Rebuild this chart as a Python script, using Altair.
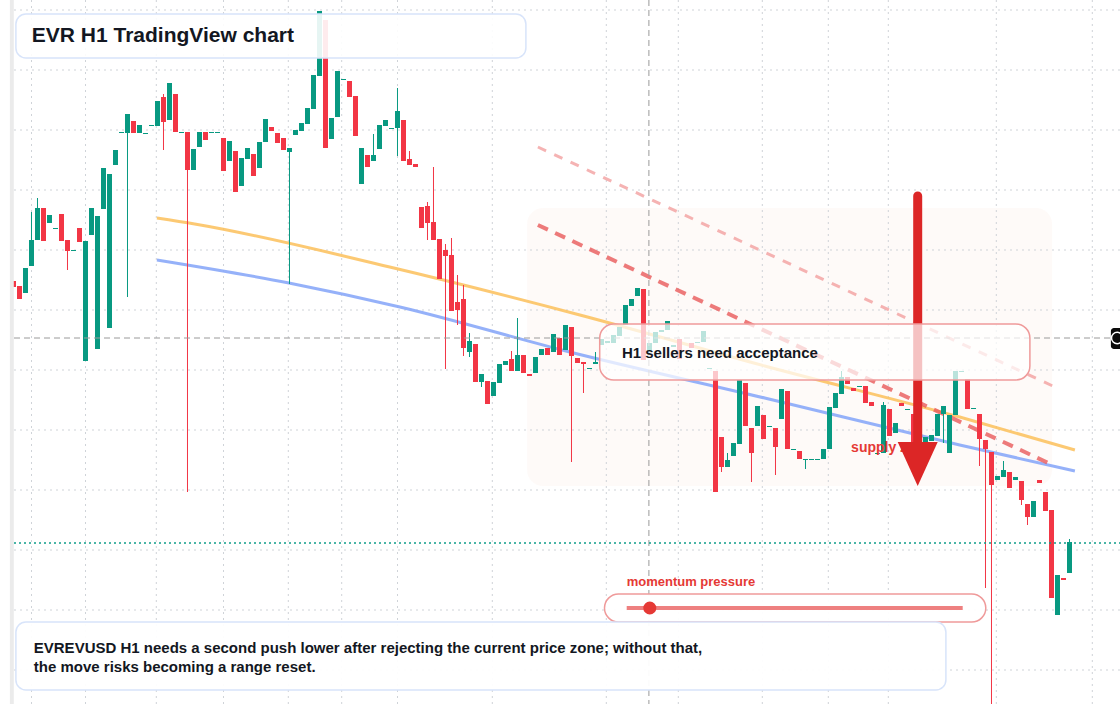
import altair as alt
import pandas as pd

# ---------------- data ----------------
candle_idx = list(range(-1, 176))
opens = [4.23, 4.18, 4.11, 4.38, 4.64, 4.96, 4.81, 4.75, 4.90, 4.64, 4.53, 4.76, 3.43, 4.69, 3.55, 4.95, 3.76, 5.39, 5.71, 5.71,
         5.83, 5.71, 5.70, 5.78, 5.78, 6.07, 5.84, 6.10, 5.71, 5.72, 5.34, 5.57, 5.72, 5.71, 5.71, 5.66, 5.43, 5.53, 5.18, 5.45,
         5.50, 5.36, 5.62, 5.77, 5.71, 5.66, 5.52, 5.69, 5.73, 5.80, 5.95, 6.28, 6.84, 5.65, 5.87, 6.24, 6.23, 6.08, 5.20, 5.49,
         5.43, 5.55, 5.78, 5.75, 5.76, 5.84, 5.45, 5.40, 4.97, 4.98, 4.82, 4.65, 4.54, 4.49, 4.02, 4.05, 3.52, 3.60, 3.22, 3.23,
         3.08, 3.21, 3.39, 3.45, 3.33, 3.49, 3.30, 3.31, 3.49, 3.56, 3.52, 3.66, 3.54, 3.77, 3.46, 3.42, 3.35, 3.40, 3.59, 3.61,
         3.61, 3.68, 3.79, 3.98, 4.08, 4.15, 3.52, 3.61, 3.72, 3.74, 3.57, 3.65, 3.54, 3.61, 3.61, 3.62, 3.35, 3.33, 2.67, 2.37,
         2.48, 2.60, 3.21, 2.76, 2.78, 2.89, 2.77, 2.76, 2.85, 3.13, 2.54, 2.53, 2.44, 2.44, 2.44, 2.45, 2.55, 2.96, 3.10, 3.27,
         3.16, 3.17, 3.18, 3.02, 2.50, 2.51, 2.95, 2.71, 3.01, 2.94, 2.90, 2.74, 2.59, 2.63, 2.68, 2.90, 2.51, 2.89, 3.32, 3.25,
         2.95, 2.90, 2.64, 2.52, 2.24, 2.27, 2.32, 2.24, 2.23, 2.00, 1.87, 2.24, 2.12, 1.94, 0.89, 1.26, 1.31]
closes = [4.17, 4.05, 4.36, 4.64, 4.96, 4.63, 4.89, 4.76, 4.63, 4.53, 4.54, 4.62, 4.63, 4.96, 4.88, 5.36, 5.30, 5.54, 5.72, 5.90,
          5.71, 5.79, 5.71, 5.79, 6.03, 5.82, 6.21, 5.72, 5.72, 5.34, 5.55, 5.72, 5.64, 5.72, 5.72, 5.33, 5.63, 5.12, 5.46, 5.56,
          5.28, 5.62, 5.85, 5.73, 5.61, 5.54, 5.56, 5.74, 5.81, 5.96, 6.29, 6.93, 5.56, 5.86, 6.33, 6.25, 6.07, 5.68, 5.56, 5.37,
          5.49, 5.79, 5.84, 5.76, 5.93, 5.43, 5.39, 5.37, 4.76, 4.81, 4.64, 4.25, 4.48, 3.93, 3.94, 3.56, 3.63, 3.22, 3.30, 3.00,
          3.22, 3.40, 3.43, 3.33, 3.49, 3.31, 3.28, 3.47, 3.55, 3.49, 3.70, 3.49, 3.79, 3.48, 3.41, 3.40, 3.36, 3.42, 3.65, 3.63,
          3.69, 3.77, 3.99, 4.05, 4.16, 3.44, 3.61, 3.72, 3.74, 3.83, 3.59, 3.45, 3.53, 3.56, 3.62, 3.73, 3.36, 2.12, 2.37, 2.44,
          2.61, 3.24, 2.78, 2.51, 2.98, 2.65, 2.78, 2.57, 3.15, 2.55, 2.55, 2.45, 2.45, 2.45, 2.45, 2.55, 2.97, 3.11, 3.27, 3.20,
          3.13, 3.18, 3.01, 2.98, 2.51, 2.99, 2.68, 2.81, 2.98, 2.95, 2.61, 2.59, 2.67, 2.69, 2.90, 2.98, 2.89, 3.33, 3.33, 2.95,
          2.96, 2.65, 2.55, 2.19, 2.28, 2.34, 2.16, 2.27, 2.04, 1.87, 2.03, 2.21, 1.93, 1.06, 1.29, 1.24, 1.62]
highs = [4.23, 4.18, 4.36, 4.92, 5.06, 4.96, 4.89, 4.76, 4.90, 4.64, 4.54, 4.76, 4.63, 4.96, 4.88, 5.36, 5.30, 5.54, 5.72, 5.90,
         5.83, 5.79, 5.71, 5.79, 6.03, 6.10, 6.21, 6.10, 5.72, 5.72, 5.55, 5.72, 5.72, 5.72, 5.72, 5.66, 5.63, 5.53, 5.46, 5.56,
         5.50, 5.62, 5.85, 5.77, 5.71, 5.66, 5.56, 5.74, 5.81, 5.96, 6.29, 6.93, 6.84, 5.86, 6.33, 6.25, 6.23, 6.08, 5.56, 5.49,
         5.70, 5.79, 5.84, 5.76, 6.16, 5.84, 5.53, 5.40, 4.97, 5.02, 5.37, 4.65, 4.60, 4.66, 4.29, 4.19, 3.71, 3.60, 3.30, 3.23,
         3.22, 3.40, 3.43, 3.53, 3.86, 3.49, 3.30, 3.47, 3.55, 3.56, 3.70, 3.66, 3.79, 3.77, 3.46, 3.42, 3.36, 3.52, 3.65, 3.63,
         3.69, 3.77, 3.99, 4.05, 4.16, 4.15, 3.61, 3.72, 3.74, 3.83, 3.59, 3.65, 3.54, 3.61, 3.62, 3.73, 3.36, 3.33, 2.67, 2.51,
         2.61, 3.24, 3.21, 2.76, 2.98, 2.89, 2.78, 2.76, 3.15, 3.13, 2.55, 2.53, 2.45, 2.45, 2.45, 2.55, 2.97, 3.11, 3.33, 3.27,
         3.16, 3.18, 3.18, 3.02, 2.51, 3.02, 2.95, 2.81, 3.01, 2.95, 2.90, 2.74, 2.67, 2.69, 2.90, 2.98, 2.89, 3.33, 3.33, 3.25,
         2.96, 2.90, 2.64, 2.52, 2.28, 2.43, 2.32, 2.27, 2.23, 2.00, 2.03, 2.24, 2.12, 1.94, 1.29, 1.26, 1.65]
lows = [4.17, 4.05, 4.11, 4.38, 4.64, 4.63, 4.81, 4.75, 4.63, 4.34, 4.53, 4.62, 3.43, 4.69, 3.55, 4.95, 3.76, 5.39, 5.71, 4.07,
        5.71, 5.71, 5.70, 5.78, 5.78, 5.54, 5.84, 5.72, 5.71, 2.12, 5.34, 5.57, 5.64, 5.71, 5.71, 5.33, 5.43, 5.12, 5.18, 5.45,
        5.28, 5.36, 5.62, 5.73, 5.61, 5.54, 4.20, 5.69, 5.73, 5.80, 5.95, 6.28, 5.56, 5.65, 5.87, 6.24, 6.07, 5.68, 5.20, 5.37,
        5.43, 5.55, 5.78, 5.75, 5.48, 5.43, 5.39, 5.37, 4.76, 4.64, 4.64, 4.25, 3.35, 3.93, 3.79, 3.48, 3.47, 3.22, 3.17, 3.00,
        3.08, 3.21, 3.39, 3.33, 3.33, 3.31, 3.28, 3.31, 3.49, 3.49, 3.52, 3.49, 3.54, 2.42, 3.41, 3.11, 3.35, 3.40, 3.59, 3.61,
        3.61, 3.68, 3.79, 3.98, 4.08, 3.44, 3.52, 3.61, 3.72, 3.74, 3.57, 3.45, 3.53, 3.56, 3.61, 3.62, 3.35, 2.12, 2.32, 2.37,
        2.48, 2.60, 2.78, 2.22, 2.78, 2.65, 2.77, 2.29, 2.85, 2.55, 2.54, 2.45, 2.35, 2.44, 2.44, 2.45, 2.55, 2.96, 3.10, 3.20,
        3.13, 3.17, 3.01, 2.98, 2.50, 2.51, 2.68, 2.71, 2.98, 2.94, 2.61, 2.59, 2.59, 2.63, 2.68, 2.61, 2.51, 2.89, 3.32, 2.95,
        2.95, 2.38, 1.16, 0.00, 2.24, 2.27, 2.16, 2.24, 1.99, 1.79, 1.87, 2.21, 1.93, 1.06, 0.89, 1.24, 1.31]

# moving-average style guide lines (bar index, price)
orange_x = [22.9, 29.2, 61.7, 93.4, 124.2, 156.7, 175.9]
orange_y = [4.86, 4.80, 4.37, 3.89, 3.38, 2.87, 2.54]
blue_x = [22.9, 44.9, 63.4, 91.7, 124.2, 156.7, 175.9]
blue_y = [4.44, 4.21, 3.97, 3.52, 3.06, 2.59, 2.33]

# red dashed channel
chan_x = [86.4, 172.2]
chan_main_y = [4.79, 2.39]
chan_upper_y = [5.57, 3.18]

grid_x = [2.0, 11.0, 22.8, 34.0, 44.8, 53.7, 63.0, 78.8, 97.8, 109.8, 123.8, 134.8, 144.8, 162.8, 178.8]
grid_y = [6.94, 6.34, 5.74, 5.14, 4.54, 3.94, 3.34, 2.74, 2.14, 1.54, 0.94, 0.34]

crosshair_x = 104.9
crosshair_y = 3.66
last_price = 1.61

title_text = "EVR H1 TradingView chart"
note_text = "H1 sellers need acceptance"
zone_text = "supply zone"
momentum_text = "momentum pressure"
caption_lines = ["EVREVUSD H1 needs a second push lower after rejecting the current price zone; without that,",
                 "the move risks becoming a range reset."]

# ---------------- styling ----------------
GREEN = "#089981"
RED = "#f23645"
FONT = "Liberation Sans"
DARK = "#131722"

xs = alt.Scale(domain=[-3.25, 183.4167], nice=False, zero=False)
ys = alt.Scale(domain=[0.0, 7.04], nice=False, zero=False)


def X(f):
    return alt.X(f, type="quantitative", scale=xs, axis=None)


def Y(f):
    return alt.Y(f, type="quantitative", scale=ys, axis=None)


candles = pd.DataFrame({"idx": candle_idx, "open": opens, "close": closes, "high": highs, "low": lows})
cbase = alt.Chart(candles).transform_calculate(
    x0="datum.idx - 0.41667", x1="datum.idx + 0.41667",
    dir="datum.close >= datum.open ? 'up' : 'down'")
ccolor = alt.Color("dir:N", scale=alt.Scale(domain=["up", "down"], range=[GREEN, RED]), legend=None)
wicks = cbase.mark_rule(strokeWidth=1).encode(x=X("idx"), y=Y("low"), y2="high", color=ccolor)
bodies = cbase.mark_rect().encode(x=X("x0"), x2="x1", y=Y("open"), y2="close", color=ccolor)

# grid
gx = alt.Chart(pd.DataFrame({"x": grid_x})).mark_rule(color="#cfd3d8", strokeDash=[2, 4], strokeWidth=1).encode(
    x=X("x"), y=alt.value(0), y2=alt.value(704))
gy = alt.Chart(pd.DataFrame({"y": grid_y})).mark_rule(color="#cfd3d8", strokeDash=[2, 4], strokeWidth=1).encode(
    y=Y("y"), x=alt.value(14), x2=alt.value(1120))

# supply zone
zone = alt.Chart(pd.DataFrame({"x": [84.6], "x2": [172.1], "y": [4.96], "y2": [2.18]})).mark_rect(
    color="#f7e6d6", opacity=0.18, cornerRadius=16).encode(x=X("x"), x2="x2", y=Y("y"), y2="y2")

# guide lines
ol = alt.Chart(pd.DataFrame({"x": orange_x, "y": orange_y})).mark_line(
    color="#fbbf5a", strokeWidth=3, opacity=0.85, interpolate="monotone").encode(x=X("x"), y=Y("y"))
bl = alt.Chart(pd.DataFrame({"x": blue_x, "y": blue_y})).mark_line(
    color="#8aa8f8", strokeWidth=3, opacity=0.9, interpolate="monotone").encode(x=X("x"), y=Y("y"))
ch1 = alt.Chart(pd.DataFrame({"x": chan_x, "y": chan_main_y})).mark_line(
    color="#e85a5a", strokeWidth=4, opacity=0.8, strokeDash=[11, 8]).encode(x=X("x"), y=Y("y"))
ch2 = alt.Chart(pd.DataFrame({"x": chan_x, "y": chan_upper_y})).mark_line(
    color="#f19a9a", strokeWidth=3, opacity=0.75, strokeDash=[9, 9]).encode(x=X("x"), y=Y("y"))

# crosshair & last price
vx = alt.Chart(pd.DataFrame({"x": [crosshair_x]})).mark_rule(color="#9a9a9a", strokeDash=[6, 4], strokeWidth=1).encode(
    x=X("x"), y=alt.value(0), y2=alt.value(704))
hy = alt.Chart(pd.DataFrame({"y": [crosshair_y]})).mark_rule(color="#9a9a9a", strokeDash=[6, 4], strokeWidth=1).encode(
    y=Y("y"), x=alt.value(14), x2=alt.value(1110))
lp = alt.Chart(pd.DataFrame({"y": [last_price]})).mark_rule(color="#0f9d8a", strokeDash=[2, 3], strokeWidth=1.5).encode(
    y=Y("y"), x=alt.value(14), x2=alt.value(1120))

# left strip
strip = alt.Chart(pd.DataFrame({"x": [-1.6], "x2": [-0.95]})).mark_rect(color="#ebebeb").encode(
    x=X("x"), x2="x2", y=alt.value(0), y2=alt.value(704))

# supply zone label
zlabel = alt.Chart(pd.DataFrame({"x": [138.6], "y": [2.56], "t": [zone_text]})).mark_text(
    align="left", baseline="middle", font=FONT, fontSize=14, fontWeight="bold", color="#e53935").encode(
    x=X("x"), y=Y("y"), text="t:N")

# arrow
shaft = alt.Chart(pd.DataFrame({"x": [149.7], "y": [5.08], "y2": [2.60]})).mark_rule(
    color="#dc2626", strokeWidth=9, strokeCap="round").encode(x=X("x"), y=Y("y"), y2="y2")
head = alt.Chart(pd.DataFrame({"x": [149.7], "y": [2.40]})).mark_point(
    shape="M-1,-1.1L1,-1.1L0,1.1Z", size=1600, filled=True, color="#dc2626", opacity=1).encode(
    x=X("x"), y=Y("y"))

# annotation box
nbox = alt.Chart(pd.DataFrame({"x": [96.7], "x2": [168.4], "y": [3.80], "y2": [3.24]})).mark_rect(
    fill="white", fillOpacity=0.72, stroke="#ef9a9a", strokeWidth=1.5, cornerRadius=14).encode(
    x=X("x"), x2="x2", y=Y("y"), y2="y2")
ntext = alt.Chart(pd.DataFrame({"x": [100.4], "y": [3.51], "t": [note_text]})).mark_text(
    align="left", baseline="middle", font=FONT, fontSize=15, fontWeight="bold", color=DARK).encode(
    x=X("x"), y=Y("y"), text="t:N")

# title box
tbox = alt.Chart(pd.DataFrame({"x": [-0.6], "x2": [84.4], "y": [6.90], "y2": [6.46]})).mark_rect(
    fill="white", fillOpacity=0.9, stroke="#d8e4fa", strokeWidth=1.5, cornerRadius=10).encode(
    x=X("x"), x2="x2", y=Y("y"), y2="y2")
ttext = alt.Chart(pd.DataFrame({"x": [2.05], "y": [6.68], "t": [title_text]})).mark_text(
    align="left", baseline="middle", font=FONT, fontSize=21, fontWeight="bold", color=DARK).encode(
    x=X("x"), y=Y("y"), text="t:N")

# momentum widget
mlabel = alt.Chart(pd.DataFrame({"x": [101.2], "y": [1.22], "t": [momentum_text]})).mark_text(
    align="left", baseline="middle", font=FONT, fontSize=13, fontWeight="bold", color="#e53935").encode(
    x=X("x"), y=Y("y"), text="t:N")
mbox = alt.Chart(pd.DataFrame({"x": [97.5], "x2": [161.05], "y": [1.10], "y2": [0.82]})).mark_rect(
    fill="white", fillOpacity=0.95, stroke="#ef9a9a", strokeWidth=1.5, cornerRadius=14).encode(
    x=X("x"), x2="x2", y=Y("y"), y2="y2")
mtrack = alt.Chart(pd.DataFrame({"x": [101.2], "x2": [157.2], "y": [0.96]})).mark_rule(
    color="#ee8080", strokeWidth=4).encode(x=X("x"), x2="x2", y=Y("y"))
mdot = alt.Chart(pd.DataFrame({"x": [105.05], "y": [0.96]})).mark_circle(
    size=170, color="#e53935", opacity=1).encode(x=X("x"), y=Y("y"))

# caption box
cbox = alt.Chart(pd.DataFrame({"x": [-0.6], "x2": [154.4], "y": [0.82], "y2": [0.14]})).mark_rect(
    fill="white", fillOpacity=0.95, stroke="#d8e4fa", strokeWidth=1.5, cornerRadius=10).encode(
    x=X("x"), x2="x2", y=Y("y"), y2="y2")
ctext = alt.Chart(pd.DataFrame({"x": [2.38, 2.38], "y": [0.56, 0.37], "t": caption_lines})).mark_text(
    align="left", baseline="middle", font=FONT, fontSize=15, fontWeight="bold", color=DARK).encode(
    x=X("x"), y=Y("y"), text="t:N")

# right crosshair tag
rtag = alt.Chart(pd.DataFrame({"x": [181.9], "x2": [184.5], "y": [3.76], "y2": [3.55]})).mark_rect(
    color="#0b0b0b", cornerRadius=3).encode(x=X("x"), x2="x2", y=Y("y"), y2="y2")
rring = alt.Chart(pd.DataFrame({"x": [182.95], "y": [3.66]})).mark_point(
    shape="circle", size=130, filled=False, color="white", strokeWidth=1.5, opacity=1).encode(x=X("x"), y=Y("y"))

chart = alt.layer(
    zone, gx, gy, ol, bl, ch2, ch1, wicks, bodies, vx, hy, lp, strip, zlabel, shaft, head,
    nbox, ntext, tbox, ttext, mlabel, mbox, mtrack, mdot, cbox, ctext, rtag, rring
).properties(
    width=1120, height=704, padding=0, background="white",
    autosize=alt.AutoSizeParams(type="none")
).configure_view(strokeWidth=0)

chart.save("out.html", embed_options={"renderer": "svg", "actions": False})
